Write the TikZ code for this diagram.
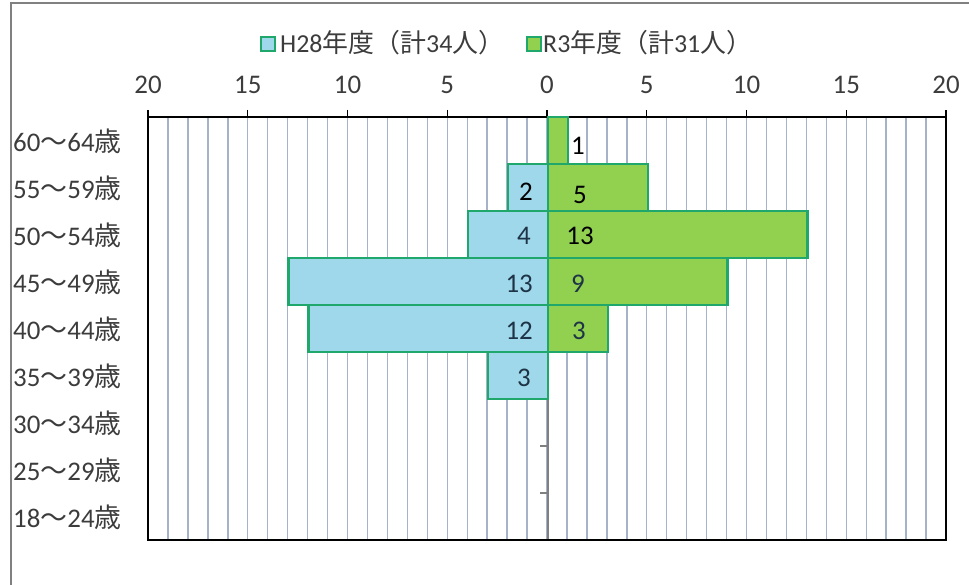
\documentclass[tikz,border=0pt]{standalone}
\usepackage{fontspec}
\setmainfont{Carlito}
\newfontfamily\cjk{Noto Sans CJK JP}
\definecolor{h28blue}{RGB}{158,216,234}
\definecolor{r3green}{RGB}{146,208,80}
\definecolor{barline}{RGB}{32,168,108}
\definecolor{gridgray}{RGB}{165,178,200}
\definecolor{axisgray}{RGB}{60,60,60}
\definecolor{slate}{RGB}{30,52,70}
\tikzset{
  h28bar/.style={fill=h28blue, draw=barline, line width=2.5bp},
  r3bar/.style={fill=r3green, draw=barline, line width=2.5bp},
  gridline/.style={draw=gridgray, line width=1.4bp},
  ticklab/.style={text=axisgray, inner sep=0pt, font=\fontsize{27}{32}\selectfont},
  agelab/.style={anchor=west, inner sep=0pt, text=axisgray, font=\fontsize{27}{32}\selectfont},
  leglab/.style={anchor=west, inner sep=0pt, text=axisgray, font=\fontsize{26}{31}\selectfont},
  vallab/.style={inner sep=0pt, font=\fontsize{27}{32}\selectfont}
}
\begin{document}
\begin{tikzpicture}[x=1bp, y=-1bp]
    \useasboundingbox (0,0) rectangle (969,585);
    % outer frame
    \draw[gray, line width=2bp] (11,585) -- (11,3) -- (969,3);
    % legend
    \draw[fill=h28blue, draw=barline, line width=1.5bp] (261,37) rectangle (275,51);
    \node[leglab] (leg1) at (280,43) {H28{\cjk 年度（計}34{\cjk 人）}};
    \draw[fill=r3green, draw=barline, line width=1.5bp] (527,37) rectangle (541,51);
    \node[leglab] (leg2) at (543,43) {R3{\cjk 年度（計}31{\cjk 人）}};
    % grid
    \foreach \i in {1,...,39}
        \draw[gridline] ({148+19.95*\i},117) -- ({148+19.95*\i},540);
    % zero axis
    \draw[gray, line width=1.3bp] (548,117) -- (548,540);
    \foreach \k in {1,...,8}
        \draw[gray, line width=1.3bp] (540,{117+47*\k}) -- (548,{117+47*\k});
    % plot frame and top ticks
    \draw[line width=1.5bp] (148,117) rectangle (946,540);
    \foreach \i/\v in {0/20,1/15,2/10,3/5,4/0,5/5,6/10,7/15,8/20} {
        \draw[line width=1.3bp] ({148+99.75*\i},110) -- ({148+99.75*\i},117);
        \node[ticklab] (t\i) at ({148+99.75*\i},85) {\v};
    }
    % bars
    \foreach \k/\n in {1/2,2/4,3/13,4/12,5/3}
        \draw[h28bar] ({548-19.95*\n},{117+47*\k}) rectangle (548,{164+47*\k});
    \foreach \k/\n in {0/1,1/5,2/13,3/9,4/3}
        \draw[r3bar] (548,{117+47*\k}) rectangle ({548+19.95*\n},{164+47*\k});
    % values
    \node[vallab, anchor=east] (b2) at (533,192) {2};
    \node[vallab, anchor=east, text=slate] (b4) at (531,236) {4};
    \node[vallab, anchor=east, text=slate] (b13) at (533,284) {13};
    \node[vallab, anchor=east, text=slate] (b12) at (533,331) {12};
    \node[vallab, anchor=east, text=slate] (b3) at (531,378) {3};
    \node[vallab] (g1) at (578,146) {1};
    \node[vallab] (g5) at (580,195) {5};
    \node[vallab] (g13) at (580,236) {13};
    \node[vallab, text=slate] (g9) at (578,284) {9};
    \node[vallab, text=slate] (g3) at (579,331) {3};
    % age classes
    \foreach \a/\b [count=\k from 0] in {60/64,55/59,50/54,45/49,40/44,35/39,30/34,25/29,18/24}
        \node[agelab] (age\k) at (13,{141+47*\k}) {\a{\cjk ～}\b{\cjk 歳}};
\end{tikzpicture}
\end{document}
